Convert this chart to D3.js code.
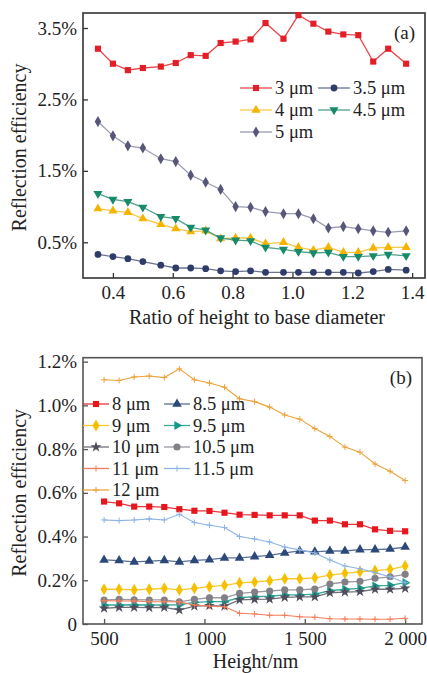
<!DOCTYPE html>
<html>
<head>
<meta charset="utf-8">
<script src="https://cdn.jsdelivr.net/npm/d3@7"></script>
<style>
  body { margin: 0; background: #fff; }
</style>
</head>
<body>
<div id="chart"></div>
<script>
// (a) ratio of height to base diameter
const ratio = [0.35, 0.40, 0.45, 0.50, 0.56, 0.61, 0.66, 0.71, 0.76, 0.81, 0.86,
  0.91, 0.97, 1.02, 1.07, 1.12, 1.17, 1.22, 1.27, 1.32, 1.38];
const aNames = ['3 μm', '3.5 μm', '4 μm', '4.5 μm', '5 μm'];
const a3 = [3.21, 3.00, 2.91, 2.94, 2.96, 3.01, 3.12, 3.11, 3.29, 3.31, 3.34,
  3.57, 3.35, 3.68, 3.56, 3.45, 3.41, 3.40, 3.03, 3.21, 3.00];
const a35 = [0.33, 0.30, 0.27, 0.23, 0.18, 0.14, 0.14, 0.13, 0.10, 0.09, 0.10,
  0.08, 0.08, 0.08, 0.08, 0.08, 0.08, 0.07, 0.09, 0.12, 0.11];
const a4 = [0.97, 0.94, 0.92, 0.83, 0.75, 0.69, 0.65, 0.66, 0.55, 0.56, 0.56,
  0.48, 0.50, 0.43, 0.39, 0.43, 0.36, 0.36, 0.42, 0.43, 0.43];
const a45 = [1.18, 1.10, 1.07, 0.99, 0.86, 0.83, 0.71, 0.67, 0.56, 0.53, 0.52,
  0.43, 0.40, 0.37, 0.35, 0.36, 0.30, 0.30, 0.31, 0.33, 0.31];
const a5 = [2.19, 1.99, 1.85, 1.82, 1.67, 1.63, 1.44, 1.34, 1.24, 1.00, 0.99,
  0.93, 0.90, 0.90, 0.83, 0.70, 0.72, 0.69, 0.66, 0.64, 0.66];
const aTicksX = [0.4, 0.6, 0.8, 1.0, 1.2, 1.4];
const aTicksY = [0.5, 1.5, 2.5, 3.5];

// (b) height in nm
const heights = [500, 575, 650, 725, 800, 875, 950, 1025, 1100, 1175, 1250,
  1325, 1400, 1475, 1550, 1625, 1700, 1775, 1850, 1925, 2000];
const bNames = ['8 μm', '8.5 μm', '9 μm', '9.5 μm', '10 μm', '10.5 μm', '11 μm', '11.5 μm', '12 μm'];
const b8 = [0.560, 0.552, 0.537, 0.537, 0.535, 0.525, 0.518, 0.517, 0.509, 0.500, 0.499,
  0.497, 0.497, 0.497, 0.473, 0.473, 0.456, 0.456, 0.433, 0.426, 0.424];
const b85 = [0.293, 0.290, 0.284, 0.288, 0.291, 0.284, 0.291, 0.294, 0.302, 0.302, 0.308,
  0.314, 0.325, 0.334, 0.330, 0.334, 0.334, 0.340, 0.340, 0.343, 0.352];
const b9 = [0.159, 0.159, 0.156, 0.159, 0.163, 0.156, 0.163, 0.171, 0.177, 0.188, 0.192,
  0.198, 0.207, 0.207, 0.211, 0.224, 0.232, 0.239, 0.244, 0.250, 0.265];
const b95 = [0.087, 0.087, 0.088, 0.087, 0.087, 0.088, 0.099, 0.102, 0.102, 0.120, 0.125,
  0.127, 0.133, 0.133, 0.137, 0.152, 0.159, 0.163, 0.174, 0.177, 0.189];
const b10 = [0.072, 0.076, 0.076, 0.075, 0.076, 0.064, 0.082, 0.084, 0.082, 0.110, 0.113,
  0.114, 0.122, 0.124, 0.124, 0.143, 0.146, 0.148, 0.159, 0.159, 0.163];
const b105 = [0.110, 0.113, 0.111, 0.110, 0.110, 0.101, 0.113, 0.120, 0.120, 0.140, 0.146,
  0.151, 0.156, 0.156, 0.160, 0.183, 0.192, 0.195, 0.209, 0.216, 0.227];
const b11 = [0.107, 0.105, 0.105, 0.102, 0.102, 0.102, 0.087, 0.082, 0.079, 0.049, 0.046,
  0.040, 0.040, 0.033, 0.031, 0.024, 0.023, 0.023, 0.022, 0.022, 0.026];
const b115 = [0.476, 0.473, 0.476, 0.481, 0.476, 0.502, 0.464, 0.452, 0.441, 0.400, 0.389,
  0.375, 0.352, 0.339, 0.325, 0.293, 0.265, 0.253, 0.235, 0.216, 0.189];
const b12 = [1.117, 1.114, 1.130, 1.134, 1.127, 1.167, 1.117, 1.102, 1.083, 1.030, 1.017,
  0.992, 0.956, 0.937, 0.894, 0.858, 0.809, 0.786, 0.732, 0.699, 0.656];
const bTicksX = [500, 1000, 1500, 2000];
const bTicksY = [0, 0.2, 0.4, 0.6, 0.8, 1.0, 1.2];

const FONT = '"Liberation Serif", "DejaVu Serif", serif';
const plus = d3.symbolPlus || d3.symbolCross;

// marker styles per series
const aStyle = [
  { sym: d3.symbolSquare, size: 38, rot: 0, fill: '#e31e26', line: '#e9474b' },
  { sym: d3.symbolCircle, size: 36, rot: 0, fill: '#2f3c6a', line: '#6c7394' },
  { sym: d3.symbolTriangle, size: 36, rot: 0, fill: '#f6b400', line: '#f8c747' },
  { sym: d3.symbolTriangle, size: 36, rot: 180, fill: '#178a6a', line: '#4ea28a' },
  { sym: d3.symbolDiamond, size: 36, rot: 0, fill: '#56567a', line: '#9a9ab3' }
];
const bStyle = [
  { sym: d3.symbolSquare, size: 38, rot: 0, fill: '#e8161c', line: '#e8343a' },
  { sym: d3.symbolTriangle, size: 40, rot: 0, fill: '#2c4878', line: '#5a6f96' },
  { sym: d3.symbolDiamond, size: 42, rot: 0, fill: '#f6c000', line: '#f7c92e' },
  { sym: d3.symbolTriangle, size: 36, rot: 90, fill: '#15988a', line: '#3aa898' },
  { sym: d3.symbolStar, size: 36, rot: 0, fill: '#4e4e5c', line: '#70707c' },
  { sym: d3.symbolCircle, size: 40, rot: 0, fill: '#808086', line: '#9a9aa0' },
  { sym: plus, size: 14, rot: 0, fill: '#f27d5a', line: '#f27d5a', stroke: true },
  { sym: plus, size: 14, rot: 0, fill: '#8fb3e3', line: '#8fb3e3', stroke: true },
  { sym: plus, size: 14, rot: 0, fill: '#eda23a', line: '#eda23a', stroke: true }
];

const svg = d3.select('#chart').append('svg')
  .attr('width', 427)
  .attr('height', 673)
  .attr('font-family', FONT);

function marker(g, st, x, y) {
  const p = g.append('path')
    .attr('d', d3.symbol().type(st.sym).size(st.size)())
    .attr('transform', `translate(${x},${y}) rotate(${st.rot})`);
  if (st.stroke) p.attr('fill', 'none').attr('stroke', st.fill).attr('stroke-width', 1);
  else p.attr('fill', st.fill);
}

function label(g, size) {
  return g.append('text')
    .style('font-family', FONT)
    .style('font-size', size + 'px')
    .attr('fill', '#222');
}

function panel(opt) {
  const x = d3.scaleLinear().domain(opt.xDomain).range([opt.left, opt.right]);
  const y = d3.scaleLinear().domain(opt.yDomain).range([opt.bottom, opt.top]);
  const g = svg.append('g');

  const xAxis = g.append('g')
    .attr('transform', `translate(0,${opt.bottom})`)
    .call(d3.axisBottom(x).tickValues(opt.xTicks).tickSize(-5).tickPadding(7).tickFormat(opt.xFmt));
  const yAxis = g.append('g')
    .attr('transform', `translate(${opt.left},0)`)
    .call(d3.axisLeft(y).tickValues(opt.yTicks).tickSize(-5).tickPadding(6).tickFormat(opt.yFmt));
  [xAxis, yAxis].forEach(ax => {
    ax.attr('font-family', FONT);
    ax.select('.domain').remove();
    ax.selectAll('line').attr('stroke', opt.frame).attr('stroke-width', 1.3);
    ax.selectAll('text')
      .style('font-family', FONT)
      .style('font-size', '19px')
      .attr('fill', '#222');
  });
  xAxis.selectAll('text').attr('dy', '0.75em');

  g.append('rect')
    .attr('x', opt.left).attr('y', opt.top)
    .attr('width', opt.right - opt.left).attr('height', opt.bottom - opt.top)
    .attr('fill', 'none').attr('stroke', opt.frame).attr('stroke-width', 1.6);

  const line = d3.line()
    .x((d, i) => x(opt.xs[i]))
    .y(d => y(d));

  opt.series.forEach((vals, k) => {
    const st = opt.styles[k];
    g.append('path')
      .attr('d', line(vals))
      .attr('fill', 'none')
      .attr('stroke', st.line)
      .attr('stroke-width', st.stroke ? 1.1 : 1.3);
    vals.forEach((v, i) => marker(g, st, x(opt.xs[i]), y(v)));
  });

  // legend
  opt.names.forEach((name, k) => {
    const st = opt.styles[k];
    const col = k % 2, row = Math.floor(k / 2);
    const lx = opt.legX[col], ly = opt.legY + row * opt.legStep;
    g.append('line')
      .attr('x1', lx).attr('x2', lx + opt.legLen[col])
      .attr('y1', ly).attr('y2', ly)
      .attr('stroke', st.line).attr('stroke-width', 1.3);
    marker(g, st, lx + opt.legLen[col] / 2, ly);
    label(g, 18.5)
      .attr('x', lx + opt.legLen[col] + 3).attr('y', ly)
      .attr('dy', '0.35em')
      .text(name);
  });

  label(g, 19)
    .attr('x', opt.right - 10).attr('y', opt.top + 26)
    .attr('text-anchor', 'end')
    .text(opt.tag);

  label(g, 20)
    .attr('x', (opt.left + opt.right) / 2 + 3).attr('y', opt.xTitleY)
    .attr('text-anchor', 'middle')
    .text(opt.xTitle);

  label(g, 20)
    .attr('transform', `translate(26,${(opt.top + opt.bottom) / 2 + 2}) rotate(-90)`)
    .attr('text-anchor', 'middle')
    .text('Reflection efficiency');
}

panel({
  xDomain: [0.3, 1.443], yDomain: [0, 3.71],
  left: 83, right: 425, top: 13, bottom: 278,
  xTicks: aTicksX, yTicks: aTicksY,
  xFmt: d3.format('.1f'), yFmt: d => d3.format('.1f')(d) + '%',
  xs: ratio, series: [a3, a35, a4, a45, a5], names: aNames, styles: aStyle,
  legX: [240, 318], legLen: [32, 32], legY: 88, legStep: 22,
  frame: '#333', tag: '(a)',
  xTitle: 'Ratio of height to base diameter', xTitleY: 324
});

panel({
  xDomain: [395, 2084], yDomain: [0, 1.218],
  left: 83, right: 422, top: 357.7, bottom: 624,
  xTicks: bTicksX, yTicks: bTicksY,
  xFmt: d => d < 1000 ? String(d) : String(d).replace(/(\d)(\d{3})$/, '$1 $2'),
  yFmt: d => d === 0 ? '0' : d3.format('.1f')(d) + '%',
  xs: heights, series: [b8, b85, b9, b95, b10, b105, b11, b115, b12], names: bNames, styles: bStyle,
  legX: [83, 164], legLen: [26, 26], legY: 404, legStep: 21.5,
  frame: '#555', tag: '(b)',
  xTitle: 'Height/nm', xTitleY: 668
});
</script>
</body>
</html>
